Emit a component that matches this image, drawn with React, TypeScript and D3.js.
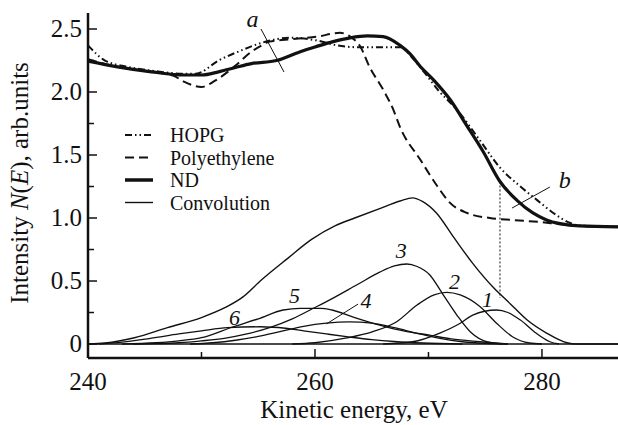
import React from 'react'
import * as d3 from 'd3'

// energies (eV) and intensities
const ndE = [240, 242.6, 245.6, 248.5, 250, 251.5, 253, 254.4, 256.6, 258.7, 260.1, 261.6, 263.1, 264.6, 266, 267.5, 268.4, 269.3, 270.4, 271.9, 273.4, 274.8, 276.3, 277.8, 279.2, 280.4, 281.6, 283.3, 286.7]
const ndV = [2.245, 2.2, 2.16, 2.135, 2.135, 2.16, 2.195, 2.225, 2.25, 2.32, 2.36, 2.4, 2.43, 2.445, 2.44, 2.37, 2.3, 2.2, 2.1, 1.94, 1.73, 1.53, 1.29, 1.14, 1.04, 0.985, 0.955, 0.937, 0.93]

const hopgE = [240, 241.5, 243.5, 246, 248.5, 249.5, 251.5, 253.5, 255.3, 257.8, 260.1, 262, 263.8, 267.6, 268.5, 269.6, 270.9, 272.5, 274.5, 276.3, 278.1, 279.6, 281, 282.5, 283.3, 286.7]
const hopgV = [2.37, 2.25, 2.2, 2.165, 2.145, 2.145, 2.25, 2.33, 2.39, 2.43, 2.41, 2.37, 2.355, 2.355, 2.28, 2.16, 2.01, 1.86, 1.62, 1.4, 1.25, 1.14, 1.04, 0.96, 0.94, 0.93]

const polyE = [240, 242.6, 245.6, 247.5, 248.5, 250, 251.2, 253, 254.4, 255.3, 256, 258, 260.2, 262.2, 263.1, 264, 264.8, 266, 266.9, 267.5, 269.3, 270.8, 271.9, 273.4, 275.4, 277.4, 279.8, 281.6, 283.5, 286.7]
const polyV = [2.26, 2.2, 2.16, 2.13, 2.08, 2.04, 2.09, 2.21, 2.32, 2.37, 2.4, 2.42, 2.44, 2.47, 2.44, 2.36, 2.2, 2.02, 1.86, 1.72, 1.46, 1.25, 1.12, 1.04, 1.0, 0.984, 0.968, 0.95, 0.935, 0.93]

const convE = [240, 241.5, 244.1, 247, 250, 252.1, 253.6, 255.3, 257.6, 259.7, 261.8, 263.5, 265.7, 267.5, 268.6, 269.5, 270.7, 272.2, 273.9, 275.7, 277.2, 278.7, 280.4, 282.2, 283, 286.7]
const convV = [0, 0.008, 0.05, 0.13, 0.21, 0.29, 0.37, 0.51, 0.68, 0.83, 0.94, 1.0, 1.075, 1.135, 1.16, 1.13, 1.04, 0.85, 0.64, 0.45, 0.32, 0.19, 0.087, 0.01, 0, 0]

const c1E = [266, 268.6, 271, 272.8, 273.9, 276, 277, 278.1, 279.5, 280.7, 281.5]
const c1V = [0, 0.018, 0.087, 0.165, 0.23, 0.27, 0.25, 0.19, 0.085, 0.018, 0]

const c2E = [258, 260, 262.8, 265.1, 267.2, 269, 270.5, 271.6, 272.8, 274.5, 276, 277.4, 278.9, 280]
const c2V = [0, 0.01, 0.048, 0.098, 0.177, 0.31, 0.39, 0.41, 0.39, 0.3, 0.165, 0.058, 0.008, 0]

const c3E = [244, 246, 248, 250, 252, 254, 256, 258, 260, 261.3, 263.7, 265.7, 267, 268.1, 269, 270.1, 271.3, 272.5, 273.7, 275.2, 276.5]
const c3V = [0, 0.003, 0.01, 0.025, 0.045, 0.08, 0.13, 0.2, 0.29, 0.35, 0.47, 0.57, 0.62, 0.635, 0.615, 0.55, 0.39, 0.23, 0.095, 0.016, 0]

const c4E = [249, 251, 253, 255, 257, 259, 261, 263, 265, 267, 269, 271, 273, 275, 277]
const c4V = [0, 0.01, 0.03, 0.06, 0.1, 0.14, 0.165, 0.175, 0.165, 0.13, 0.085, 0.045, 0.018, 0.005, 0]

const c5E = [243, 246, 248, 250, 252.8, 255, 257.2, 258.7, 260.5, 261.5, 263.5, 265.7, 268, 270.1, 272, 274.5, 277]
const c5V = [0, 0.01, 0.025, 0.05, 0.137, 0.2, 0.27, 0.283, 0.283, 0.27, 0.21, 0.15, 0.1, 0.07, 0.04, 0.018, 0]

const c6E = [241, 243, 245.5, 248, 250, 252.3, 255.2, 257.4, 259, 261, 263.1, 265, 267, 269.5, 273]
const c6V = [0, 0.015, 0.045, 0.08, 0.105, 0.13, 0.137, 0.125, 0.105, 0.08, 0.055, 0.035, 0.02, 0.008, 0]

const components = [
  { E: c1E, V: c1V },
  { E: c2E, V: c2V },
  { E: c3E, V: c3V },
  { E: c4E, V: c4V },
  { E: c5E, V: c5V },
  { E: c6E, V: c6V },
]

// curve numbers: label, energy, intensity (baseline position)
const peakLabels = ['1', '2', '3', '4', '5', '6']
const peakLabelE = [275.2, 272.3, 267.6, 264.5, 258.2, 252.9]
const peakLabelV = [0.294, 0.437, 0.68, 0.286, 0.325, 0.151]

const xTicks = [240, 260, 280]
const xMinor = [250, 270]
const yTicks = [0, 0.5, 1.0, 1.5, 2.0, 2.5]
const yMinor = [0.25, 0.75, 1.25, 1.75, 2.25]

const legendNames = ['HOPG', 'Polyethylene', 'ND', 'Convolution']

const W = 618
const H = 425
const FONT = '"Liberation Serif", "Times New Roman", Times, "DejaVu Serif", serif'

const x = d3.scaleLinear().domain([240, 286.7]).range([88, 618])
const y = d3.scaleLinear().domain([-0.111, 2.627]).range([358, 13])

const line = d3.line<[number, number]>()
  .x(d => x(d[0]))
  .y(d => y(d[1]))
  .curve(d3.curveMonotoneX)

const path = (E: number[], V: number[]) => line(E.map((e, i) => [e, V[i]] as [number, number])) || ''

const HOPG_DASH = '7,3,1.5,3,1.5,3'
const POLY_DASH = '9,5'

function T(props: any) {
  const { style, ...rest } = props
  return <text fill="#111" style={{ fontFamily: FONT, ...(style || {}) }} {...rest} />
}

function App() {
  const legendStyles = [
    { dash: HOPG_DASH, w: 2 },
    { dash: POLY_DASH, w: 2 },
    { dash: null, w: 3.5 },
    { dash: null, w: 1.4 },
  ]
  const ndAtLine = 276.3
  const ndVal = ndV[ndE.indexOf(ndAtLine)]

  return (
    <svg width={W} height={H} style={{ position: 'absolute', left: 0, top: 0, background: '#fff' }}>
      {/* zero line */}
      <line x1={x(240)} x2={x(286.7)} y1={y(0)} y2={y(0)} stroke="#111" strokeWidth={1.5} />

      {components.map((c, i) => (
        <path key={i} d={path(c.E, c.V)} fill="none" stroke="#111" strokeWidth={1.3} />
      ))}
      <path d={path(convE, convV)} fill="none" stroke="#111" strokeWidth={1.4} />

      <path d={path(polyE, polyV)} fill="none" stroke="#111" strokeWidth={2} strokeDasharray={POLY_DASH} />
      <path d={path(hopgE, hopgV)} fill="none" stroke="#111" strokeWidth={2} strokeDasharray={HOPG_DASH} />
      <path d={path(ndE, ndV)} fill="none" stroke="#111" strokeWidth={3.2} />

      {/* dotted drop line */}
      <line x1={x(ndAtLine)} x2={x(ndAtLine)} y1={y(ndVal)} y2={y(0.365)} stroke="#111" strokeWidth={1} strokeDasharray="2,2" />

      {/* annotations */}
      <line x1={x(255.24)} y1={y(2.5)} x2={x(257.27)} y2={y(2.159)} stroke="#111" strokeWidth={1} />
      <T x={x(254.5)} y={y(2.516)} fontSize={24} fontStyle="italic" textAnchor="middle">a</T>
      <line x1={x(280.7)} y1={y(1.246)} x2={x(277.36)} y2={y(1.079)} stroke="#111" strokeWidth={1} />
      <T x={x(282.0)} y={y(1.238)} fontSize={24} fontStyle="italic" textAnchor="middle">b</T>
      <line x1={x(263.8)} y1={y(0.317)} x2={x(261.0)} y2={y(0.159)} stroke="#111" strokeWidth={1} />

      {peakLabels.map((l, i) => (
        <T key={l} x={x(peakLabelE[i])} y={y(peakLabelV[i])} fontSize={22} fontStyle="italic" textAnchor="middle">{l}</T>
      ))}

      {/* axes */}
      <line x1={88} x2={88} y1={13} y2={358} stroke="#111" strokeWidth={2.5} />
      <line x1={88} x2={618} y1={358} y2={358} stroke="#111" strokeWidth={2.5} />
      {yTicks.map(t => (
        <g key={t}>
          <line x1={88} x2={97} y1={y(t)} y2={y(t)} stroke="#111" strokeWidth={1.5} />
          <T x={82} y={y(t) + 8} fontSize={25} textAnchor="end">{t === 0 ? '0' : t.toFixed(1)}</T>
        </g>
      ))}
      {yMinor.map(t => (
        <line key={t} x1={88} x2={94} y1={y(t)} y2={y(t)} stroke="#111" strokeWidth={1.5} />
      ))}
      {xTicks.map(t => (
        <g key={t}>
          <line x1={x(t)} x2={x(t)} y1={358} y2={349} stroke="#111" strokeWidth={1.5} />
          <T x={x(t)} y={390} fontSize={25} textAnchor="middle">{t}</T>
        </g>
      ))}
      {xMinor.map(t => (
        <line key={t} x1={x(t)} x2={x(t)} y1={358} y2={352} stroke="#111" strokeWidth={1.5} />
      ))}

      <T x={354} y={418} fontSize={25} textAnchor="middle">Kinetic energy, eV</T>
      <T transform="translate(28,183) rotate(-90)" fontSize={25} textAnchor="middle">
        Intensity <tspan fontStyle="italic">N</tspan>(<tspan fontStyle="italic">E</tspan>), arb.units
      </T>

      {/* legend */}
      {legendNames.map((n, i) => {
        const cy = 135 + i * 22.5
        const s = legendStyles[i]
        return (
          <g key={n}>
            <line x1={125} x2={153} y1={cy} y2={cy} stroke="#111" strokeWidth={s.w}
              strokeDasharray={s.dash || undefined} />
            <T x={170} y={cy + 7} fontSize={20}>{n}</T>
          </g>
        )
      })}
    </svg>
  )
}

export default App
